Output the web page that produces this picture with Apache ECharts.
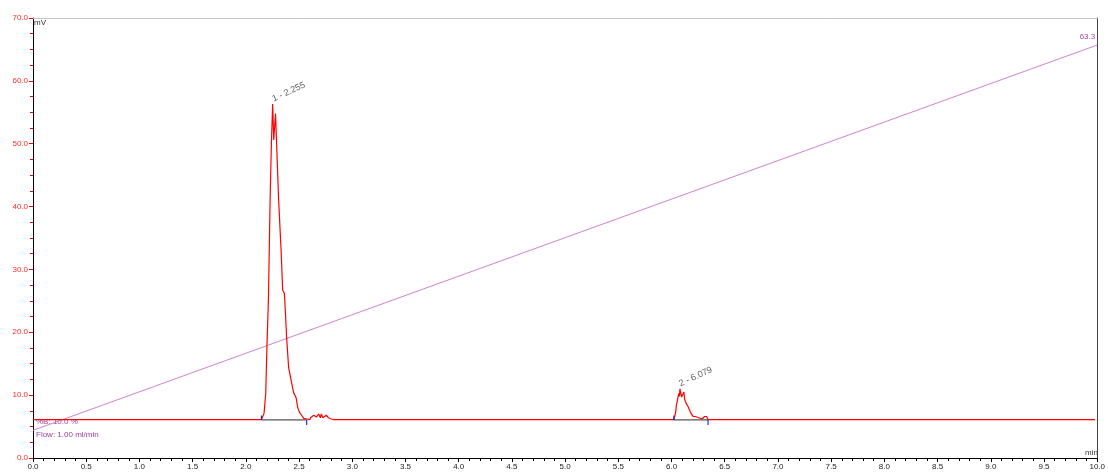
<!DOCTYPE html>
<html>
<head>
<meta charset="utf-8">
<script src="https://cdn.jsdelivr.net/npm/echarts@6/dist/echarts.min.js"></script>
<style>
html,body{margin:0;padding:0;background:#fff;}
#chart{width:1108px;height:474px;}
</style>
</head>
<body>
<div id="chart"></div>
<script>
// ---- data ----
var xTicks = [0, 10, 0.5];           // min, max, interval (min)
var yTicks = [0, 70, 10];            // min, max, interval (mV)

var chromTime = [
  0.000, 2.100, 2.146, 2.161, 2.171, 2.187, 2.199, 2.212, 2.228, 2.240, 2.252,
  2.262, 2.270, 2.279, 2.287, 2.308, 2.331, 2.346, 2.362, 2.371, 2.383, 2.402,
  2.425, 2.449, 2.472, 2.487, 2.503, 2.524, 2.543, 2.560, 2.572, 2.600, 2.612,
  2.640, 2.662, 2.684, 2.700, 2.709, 2.724, 2.755, 2.777, 2.803, 2.830,
  6.000, 6.022, 6.030, 6.038, 6.045, 6.053, 6.060, 6.069, 6.075, 6.079, 6.088,
  6.095, 6.100, 6.108, 6.116, 6.124, 6.131, 6.140, 6.147, 6.155, 6.163, 6.170,
  6.178, 6.186, 6.194, 6.205, 6.215, 6.225, 6.240, 6.256, 6.270, 6.288, 6.300,
  6.310, 6.319, 6.330, 6.343, 6.360, 9.980
];
var chromSignal = [
  6.1, 6.1, 6.1, 6.3, 7.1, 10.3, 18.3, 25.1, 41.1, 50.0, 56.3,
  50.6, 50.4, 54.8, 54.5, 41.1, 33.1, 26.7, 26.2, 23.5, 19.2, 14.4,
  12.4, 10.4, 9.6, 8.1, 7.3, 6.8, 6.3, 6.0, 6.2, 6.1, 6.5,
  6.8, 6.5, 7.0, 6.4, 7.0, 6.4, 6.8, 6.4, 6.2, 6.1,
  6.1, 6.1, 6.4, 7.2, 8.3, 8.0, 9.6, 10.3, 9.8, 11.0, 10.8,
  9.7, 10.0, 9.5, 10.5, 9.3, 9.6, 8.6, 8.9, 8.2, 8.5, 7.6,
  7.7, 7.0, 7.1, 6.6, 6.9, 6.6, 6.7, 6.4, 6.5, 6.2, 6.3,
  6.6, 6.4, 6.6, 6.1, 6.1, 6.1
];

var gradientTime = [0, 10];
var gradientLevel = [4.4, 65.7];
var gradientEndLabel = '63.3';

var peakNumbers = [1, 2];
var peakTimes = [2.255, 6.079];
var peakHeights = [56.3, 11.0];
var peakStart = [2.146, 6.022];
var peakEnd = [2.572, 6.343];
var baselineLevel = 6.05;

var infoLines = ['%B: 10.0 %', 'Flow: 1.00 ml/min'];

// ---- build ----
var FONT = 'Liberation Sans, Arial, Helvetica, sans-serif';
var chromData = chromTime.map(function (t, i) { return [t, chromSignal[i]]; });
var gradData = gradientTime.map(function (t, i) {
  var d = { value: [t, gradientLevel[i]] };
  if (i === gradientTime.length - 1) {
    d.label = { show: true, formatter: gradientEndLabel, position: [-2, -4],
      align: 'right', verticalAlign: 'bottom', color: '#a845ad', fontSize: 8, fontFamily: FONT };
  }
  return d;
});
var peakLabelData = peakTimes.map(function (t, i) { return [t, peakHeights[i]]; });

var series = [
  { type: 'line', data: gradData, showSymbol: true, symbolSize: 0, symbol: 'circle',
    lineStyle: { color: '#cc85cc', width: 1 }, itemStyle: { color: '#cc85cc' }, z: 2, silent: true },
  { type: 'line', data: chromData, showSymbol: false, lineStyle: { color: '#ff0000', width: 1.2 }, z: 3 },
  { type: 'scatter', data: peakLabelData, symbolSize: 1, itemStyle: { color: 'rgba(0,0,0,0)' }, z: 6,
    label: { show: true, formatter: function (p) { return peakNumbers[p.dataIndex] + ' - ' + peakTimes[p.dataIndex].toFixed(3); },
      position: [2, 0], align: 'left', verticalAlign: 'bottom', rotate: 25,
      color: '#333', fontSize: 9, fontFamily: FONT } }
];
peakStart.forEach(function (s, i) {
  series.push({ type: 'line', data: [[s, baselineLevel], [peakEnd[i], baselineLevel]], showSymbol: false,
    lineStyle: { color: '#555', width: 1.3 }, z: 4 });
  series.push({ type: 'line', data: [[s, baselineLevel], [s, baselineLevel + 0.7]], showSymbol: false,
    lineStyle: { color: '#0000ff', width: 1 }, z: 5 });
  series.push({ type: 'line', data: [[peakEnd[i], baselineLevel], [peakEnd[i], baselineLevel - 0.8]], showSymbol: false,
    lineStyle: { color: '#0000ff', width: 1 }, z: 5 });
});

var chart = echarts.init(document.getElementById('chart'), null, { renderer: 'canvas' });
chart.setOption({
  animation: false,
  backgroundColor: '#fff',
  textStyle: { fontFamily: FONT },
  grid: { left: 33, right: 9, top: 18, bottom: 16, containLabel: false },
  xAxis: [
    { type: 'value', min: xTicks[0], max: xTicks[1], interval: xTicks[2],
      axisLine: { show: true, onZero: false, lineStyle: { color: '#000', width: 1 } },
      axisTick: { show: true, length: 4, lineStyle: { color: '#000' } },
      minorTick: { show: true, splitNumber: 5, length: 3, lineStyle: { color: '#000' } },
      axisLabel: { color: '#222', fontSize: 8, margin: 5, fontFamily: FONT,
        formatter: function (v) { return v.toFixed(1); } },
      splitLine: { show: false } },
    { type: 'value', position: 'top', min: xTicks[0], max: xTicks[1],
      axisLine: { show: true, onZero: false, lineStyle: { color: '#c4c4c4', width: 1 } },
      axisTick: { show: false }, axisLabel: { show: false }, splitLine: { show: false } }
  ],
  yAxis: [
    { type: 'value', min: yTicks[0], max: yTicks[1], interval: yTicks[2],
      axisLine: { show: true, onZero: false, lineStyle: { color: '#000', width: 1 } },
      axisTick: { show: true, length: 4, lineStyle: { color: '#ff0000' } },
      minorTick: { show: true, splitNumber: 4, length: 3, lineStyle: { color: '#ff0000' } },
      axisLabel: { color: '#ff2a2a', fontSize: 8, margin: 5, fontFamily: FONT,
        formatter: function (v) { return v.toFixed(1); } },
      splitLine: { show: false } },
    { type: 'value', position: 'right', min: yTicks[0], max: yTicks[1],
      axisLine: { show: true, onZero: false, lineStyle: { color: '#444', width: 1 } },
      axisTick: { show: false }, axisLabel: { show: false }, splitLine: { show: false } }
  ],
  graphic: [
    { type: 'text', left: 34, top: 19, style: { text: 'mV', fill: '#333', font: '8px ' + FONT } },
    { type: 'text', right: 10, top: 449, style: { text: 'min', fill: '#333', font: '8px ' + FONT } },
    { type: 'text', left: 36, top: 418, style: { text: infoLines[0], fill: '#a040a8', font: '8px ' + FONT } },
    { type: 'text', left: 36, top: 431, style: { text: infoLines[1], fill: '#a040a8', font: '8px ' + FONT } }
  ],
  series: series
});
</script>
</body>
</html>
